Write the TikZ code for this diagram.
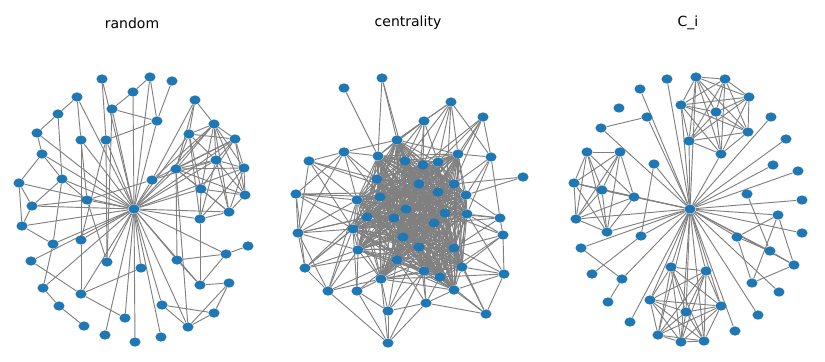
\documentclass[tikz,border=0pt]{standalone}
\usepackage{fontspec}
\setmainfont{DejaVu Sans}
\usepackage{tikz}
\usetikzlibrary{shapes.geometric, backgrounds}
\definecolor{nxblue}{HTML}{1F77B4}
\definecolor{nxgray}{HTML}{808080}
\tikzstyle{vertex} = [ellipse, fill=nxblue, draw=none, inner sep=0pt, minimum width=8.4pt, minimum height=6.9pt]
\tikzstyle{link}   = [draw=nxgray, line width=0.7pt]
\tikzstyle{title}  = [font=\fontsize{10.5}{12}\selectfont]

\begin{document}
\begin{tikzpicture}[x=0.75pt, y=-0.75pt]
    \useasboundingbox (0,0) rectangle (825,361);

    % titles
    \node[title](trnd) at (132,23){random};
    \node[title](tcen) at (408,23){centrality};
    \node[title](tci) at (688,23){C\_i};

    % random
    \foreach \n/\x/\y in {1/102/79, 2/150/77, 3/172/81, 4/133/92, 5/77/97, 6/195/100, 7/112/109, 8/58/114, 9/157/121, 10/214/124, 11/37/133, 12/189/134, 13/81/140, 14/106/140, 15/235/139, 16/42/154, 17/216/160, 18/176/169, 19/244/168, 20/62/179, 21/152/180, 22/19/183, 23/201/189, 24/245/195, 25/87/200, 26/32/206, 27/134/209, 28/229/212, 29/200/219, 30/22/226, 31/53/244, 32/81/240, 33/248/246, 34/226/254, 35/31/261, 36/107/262, 37/177/260, 38/141/268, 39/229/283, 40/200/285, 41/43/288, 42/81/294, 43/59/306, 44/162/305, 45/214/313, 46/125/318, 47/84/326, 48/188/327, 49/105/335, 50/161/337, 51/135/342}
        \node[vertex](rnd\n) at (\x,\y){};
    \begin{pgfonlayer}{background}
    \foreach \b in {1,2,4,5,7,9,10,11,12,13,14,15,16,17,18,19,20,21,22,23,25,26,28,29,30,31,32,34,35,36,37,38,40,41,42,44,46,48,49,50,51}
        \path[link](rnd27) -- (rnd\b);
    \foreach \a/\b in {6/10,6/12,6/18,10/12,10/15,10/17,10/18,10/19,10/23,10/24,10/28,12/15,12/17,12/18,12/23,12/29,15/17,15/19,15/18,15/24,15/23,17/19,17/18,17/24,17/28,17/29,18/19,18/23,18/24,18/28,19/24,19/28,23/24,23/28,23/29,24/28,28/29,19/29,21/10,21/15,21/6,21/17}
        \path[link](rnd\a) -- (rnd\b);
    \foreach \a/\b in {2/4,2/9,3/9,4/7,5/8,5/13,7/9,7/36,8/11,8/20,9/14,11/16,13/25,13/32,14/32,16/22,16/20,20/26,20/31,20/25,21/25,22/26,22/30,26/30,26/25,30/31,31/41,32/42,35/42,36/25,37/34,37/40,38/42,39/40,39/45,39/48,44/45,44/48,45/48,40/29,33/34,34/40,41/43,43/47,42/46,14/1,18/48,18/37,36/14}
        \path[link](rnd\a) -- (rnd\b);
    \end{pgfonlayer}

    % centrality
    \foreach \n/\x/\y in {1/344/88, 2/382/78, 3/451/102, 4/483/117, 5/424/121, 6/397/140, 7/344/152, 8/378/156, 9/309/161, 10/458/154, 11/491/157, 12/405/161, 13/423/165, 14/438/162, 15/523/177, 16/377/179, 17/419/184, 18/454/184, 19/296/194, 20/380/197, 21/438/192, 22/466/195, 23/357/200, 24/406/209, 25/445/213, 26/467/214, 27/367/217, 28/394/218, 29/500/218, 30/434/223, 31/353/229, 32/298/233, 33/503/235, 34/403/237, 35/419/247, 36/454/248, 37/358/250, 38/397/260, 39/305/268, 40/462/267, 41/424/271, 42/504/274, 43/381/279, 44/440/277, 45/328/291, 46/357/291, 47/454/290, 48/426/303, 49/388/311, 50/486/314, 51/388/343}
        \node[vertex](cen\n) at (\x,\y){};
    \begin{pgfonlayer}{background}
    \foreach \a in {6,8,10,12,13,14,16,17,18,20,21,22,23,24,25,26,27,28,30,31,34,35,36,37,38,40,41,43,44,47}
        \foreach \b in {6,8,10,12,13,14,16,17,18,20,21,22,23,24,25,26,27,28,30,31,34,35,36,37,38,40,41,43,44,47}
            {\ifnum\a<\b \path[link](cen\a) -- (cen\b); \fi}
    \foreach \a/\b in {1/8,2/6,2/8,2/12,3/5,3/6,3/13,3/14,3/10,3/12,3/11,3/25,4/10,4/11,4/14,4/18,4/21,4/13,5/6,5/12,5/13,5/14,5/17,5/8,5/16,7/6,7/9,7/8,7/16,7/20,7/23,7/19,7/32,9/23,9/32,9/16,9/31,9/26,11/10,11/18,11/22,11/26,11/29,15/22,15/18,19/32,19/23,19/20,19/31,19/27,19/39,19/21,29/22,29/26,29/33,29/36,29/25,29/30,32/39,32/23,32/27,32/31,32/37,32/45,32/22,33/26,33/36,33/40,33/42,33/25,33/44,39/45,39/31,39/37,39/20,39/27,39/35,42/40,42/36,42/50,42/47,42/26,42/44,45/51,45/37,45/31,45/43,45/38,45/23,46/37,46/38,46/43,46/31,46/51,48/41,48/44,48/47,48/35,48/38,48/50,48/49,48/51,49/43,49/51,49/38,49/41,49/35,49/46,50/47,50/40,50/44,50/36,51/43,51/41}
        \path[link](cen\a) -- (cen\b);
    \end{pgfonlayer}

    % C_i
    \foreach \n/\x/\y in {1/667/79, 2/696/77, 3/725/79, 4/640/89, 5/749/97, 6/681/105, 7/619/108, 8/716/112, 9/647/117, 10/771/117, 11/601/128, 12/748/132, 13/689/141, 14/786/139, 15/721/154, 16/587/152, 17/620/152, 18/654/164, 19/773/165, 20/798/171, 21/574/183, 22/602/190, 23/634/197, 24/747/194, 25/802/200, 26/690/209, 27/576/219, 28/778/215, 29/607/232, 30/802/233, 31/641/236, 32/737/237, 33/581/248, 34/770/251, 35/794/265, 36/671/267, 37/706/271, 38/592/274, 39/622/279, 40/752/283, 41/779/292, 42/650/300, 43/721/306, 44/686/312, 45/608/302, 46/758/315, 47/630/322, 48/735/331, 49/658/335, 50/681/342, 51/704/341}
        \node[vertex](ci\n) at (\x,\y){};
    \begin{pgfonlayer}{background}
    \foreach \b in {1,2,4,6,9,10,11,13,14,15,18,19,20,21,22,23,25,27,28,29,30,31,32,33,34,35,36,37,39,41,42,43,44,46,47,48,49,50,51}
        \path[link](ci26) -- (ci\b);
    \foreach \a in {2,3,5,6,8,12,13,15}
        \foreach \b in {2,3,5,6,8,12,13,15}
            {\ifnum\a<\b \path[link](ci\a) -- (ci\b); \fi}
    \foreach \a in {16,17,21,22,23,27,29}
        \foreach \b in {16,17,21,22,23,27,29}
            {\ifnum\a<\b \path[link](ci\a) -- (ci\b); \fi}
    \foreach \a in {36,37,42,43,44,49,50,51}
        \foreach \b in {36,37,42,43,44,49,50,51}
            {\ifnum\a<\b \path[link](ci\a) -- (ci\b); \fi}
    \foreach \a/\b in {24/34,28/32,28/40,28/35,32/40,34/35,35/40,32/34,9/11,18/31,33/39,38/31,45/39}
        \path[link](ci\a) -- (ci\b);
    \end{pgfonlayer}
\end{tikzpicture}
\end{document}
